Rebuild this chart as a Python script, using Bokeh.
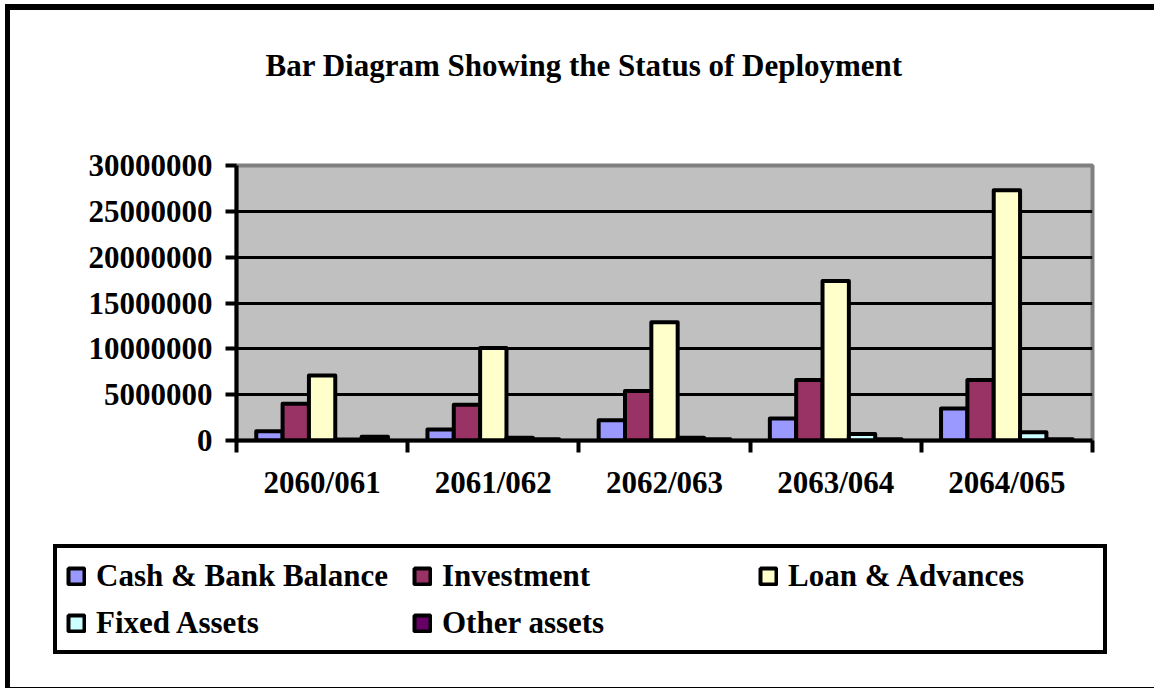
from bokeh.plotting import figure
from bokeh.layouts import column
from bokeh.models import (ColumnDataSource, FixedTicker, Range1d, Legend, LegendItem)
from bokeh.embed import file_html
from bokeh.resources import INLINE

# ---- data ----
years = ["2060/061", "2061/062", "2062/063", "2063/064", "2064/065"]
cash_bank = [1.0e6, 1.2e6, 2.2e6, 2.4e6, 3.5e6]
investment = [4.0e6, 3.9e6, 5.4e6, 6.6e6, 6.6e6]
loan_adv = [7.1e6, 10.1e6, 12.9e6, 17.4e6, 27.3e6]
fixed_assets = [0.1e6, 0.3e6, 0.3e6, 0.7e6, 0.9e6]
other_assets = [0.4e6, 0.15e6, 0.15e6, 0.15e6, 0.15e6]

series_names = ["Cash & Bank Balance", "Investment", "Loan & Advances",
                "Fixed Assets", "Other assets"]
series_vals = [cash_bank, investment, loan_adv, fixed_assets, other_assets]
colors = ["#9999FF", "#993366", "#FFFFCC", "#CCFFFF", "#660066"]

y_ticks = [0, 5000000, 10000000, 15000000, 20000000, 25000000, 30000000]
title_text = "Bar Diagram Showing the Status of Deployment"

FONT = "Liberation Serif"

W = 1144
H0 = 118          # title strip
H1 = 392          # chart
H2 = 167          # legend strip
FL, FR, FT, FB = 226, 1082, 37, 312   # chart frame edges in canvas pixels

# ---- title strip ----
p0 = figure(width=W, height=H0, output_backend="svg", toolbar_location=None,
            x_range=Range1d(0, 1), y_range=Range1d(0, 1),
            x_axis_location=None, y_axis_location=None, min_border=0)
p0.frame_align = False
p0.grid.visible = False
p0.outline_line_color = None
p0.background_fill_color = "white"
p0.border_fill_color = "white"
p0.title.text = title_text
p0.title.align = "left"
p0.title.offset = 255
p0.title.vertical_align = "top"
p0.title.standoff = 74
p0.title.text_font = FONT
p0.title.text_font_style = "bold"
p0.title.text_font_size = "31px"
p0.title.text_color = "black"

# ---- chart ----
p = figure(width=W, height=H1, output_backend="svg", toolbar_location=None,
           x_range=Range1d(0, 5), y_range=Range1d(0, 30000000),
           min_border_left=FL, min_border_right=W - FR, min_border_top=FT,
           min_border_bottom=H1 - FB)
p.title = None
p.background_fill_color = "#C0C0C0"
p.border_fill_color = "white"
p.outline_line_color = "#808080"
p.outline_line_width = 4

p.xgrid.visible = False
p.ygrid.ticker = FixedTicker(ticks=y_ticks[1:-1])
p.ygrid.grid_line_color = "black"
p.ygrid.grid_line_width = 3

bw = 1 / 6.5
sources = []
for i, (name, vals, col) in enumerate(zip(series_names, series_vals, colors)):
    xs = [g + 0.5 + (i - 2) * bw for g in range(len(years))]
    src = ColumnDataSource(dict(x=xs, top=vals))
    sources.append(src)
    p.vbar(x="x", top="top", width=bw, source=src, fill_color=col,
           line_color="black", line_width=4, line_join="round")

yax = p.yaxis[0]
yax.ticker = FixedTicker(ticks=y_ticks)
yax.major_label_overrides = {v: str(v) for v in y_ticks}
yax.major_label_text_font = FONT
yax.major_label_text_font_style = "bold"
yax.major_label_text_font_size = "31px"
yax.major_label_text_color = "black"
yax.major_tick_out = 11
yax.major_tick_in = 0
yax.major_tick_line_width = 4
yax.minor_tick_line_color = None
yax.axis_line_width = 4
yax.axis_line_color = "black"
yax.major_label_standoff = 13

xax = p.xaxis[0]
centers = [g + 0.5 for g in range(len(years))]
xax.ticker = FixedTicker(ticks=centers, minor_ticks=list(range(len(years) + 1)))
xax.major_label_overrides = {c: y for c, y in zip(centers, years)}
xax.major_label_text_font = FONT
xax.major_label_text_font_style = "bold"
xax.major_label_text_font_size = "31px"
xax.major_label_text_color = "black"
xax.major_tick_line_color = None
xax.major_tick_out = 12
xax.major_tick_in = 0
xax.minor_tick_line_color = "black"
xax.minor_tick_line_width = 4
xax.minor_tick_out = 12
xax.minor_tick_in = 0
xax.axis_line_width = 4
xax.axis_line_color = "black"
xax.major_label_standoff = 12

# ---- legend strip: hidden copies of the same series, used only for the legend ----
p2 = figure(width=W, height=H2, output_backend="svg", toolbar_location=None,
            x_range=Range1d(0, 5), y_range=Range1d(0, 30000000),
            x_axis_location=None, y_axis_location=None, min_border=0)
p2.frame_align = False
p2.title = None
p2.grid.visible = False
p2.outline_line_color = None
p2.background_fill_color = "white"
p2.border_fill_color = "white"
items = []
for name, col, src in zip(series_names, colors, sources):
    r2 = p2.vbar(x="x", top="top", width=bw, source=src, fill_color=col,
                 line_color="black", line_width=4)
    r2.visible = False
    items.append(LegendItem(label=name, renderers=[r2]))

legend = Legend(items=items, location=(43, 33), orientation="horizontal",
                ncols=3, glyph_width=20, glyph_height=20, label_standoff=10,
                label_width=306, label_height=37, spacing=10, padding=9,
                margin=0, click_policy="none",
                inactive_fill_alpha=0,
                label_text_font=FONT, label_text_font_style="bold",
                label_text_font_size="31px", label_text_color="black",
                border_line_color="black", border_line_width=4,
                border_line_alpha=1,
                background_fill_color="white", background_fill_alpha=1)
p2.add_layout(legend, "center")

layout = column(p0, p, p2, spacing=0,
                styles={"margin-left": "5px", "margin-top": "4px",
                        "border-left": "5px solid black",
                        "border-top": "6px solid black",
                        "border-bottom": "1px solid black"})

open("out.html", "w").write(file_html(layout, INLINE))
